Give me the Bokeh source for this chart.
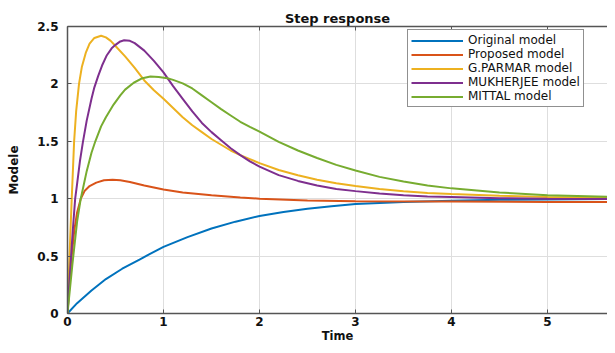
from bokeh.plotting import figure
from bokeh.models import (ColumnDataSource, Legend, LegendItem, LinearAxis, FixedTicker, Range1d)
from bokeh.embed import file_html
from bokeh.resources import INLINE

# ---- data ----
t_orig = [0, 0.1, 0.25, 0.4, 0.57, 0.75, 0.85, 1.0, 1.25, 1.5, 1.75, 2.0, 2.25, 2.5, 2.75, 3.0, 3.5, 4.0,
          4.5, 5.0, 5.7]
y_orig = [0, 0.09, 0.2, 0.3, 0.39, 0.47, 0.515, 0.58, 0.665, 0.74, 0.80, 0.85, 0.885, 0.913, 0.935, 0.953,
          0.972, 0.983, 0.99, 0.993, 0.997]

t_prop = [0, 0.02, 0.044, 0.07, 0.1, 0.138, 0.18, 0.23, 0.3, 0.38, 0.47, 0.55, 0.65, 0.8, 1.0, 1.2, 1.5,
          1.8, 2.0, 2.5, 3.0, 4.0, 5.0, 5.7]
y_prop = [0, 0.24, 0.5, 0.72, 0.88, 1.0, 1.07, 1.11, 1.14, 1.16, 1.166, 1.16, 1.145, 1.115, 1.08, 1.055, 1.03,
          1.01, 1.0, 0.985, 0.978, 0.975, 0.972, 0.972]

t_parm = [0, 0.01, 0.02, 0.03, 0.044, 0.055, 0.069, 0.09, 0.12, 0.15, 0.19, 0.23, 0.28, 0.35, 0.4, 0.45, 0.5,
          0.6, 0.7, 0.8, 0.9, 1.0, 1.1, 1.2, 1.3, 1.4, 1.5, 1.6, 1.7, 1.8, 1.9, 2.0, 2.2, 2.4, 2.6, 2.8, 3.0,
          3.25, 3.5, 3.75, 4.0, 4.5, 5.0, 5.7]
y_parm = [0, 0.24, 0.47, 0.7, 1.0, 1.22, 1.5, 1.76, 2.0, 2.15, 2.27, 2.35, 2.4, 2.42, 2.405, 2.375, 2.33,
          2.24, 2.14, 2.03, 1.945, 1.87, 1.79, 1.71, 1.64, 1.58, 1.52, 1.47, 1.42, 1.38, 1.345, 1.31, 1.25, 1.205,
          1.165, 1.135, 1.11, 1.085, 1.065, 1.05, 1.04, 1.025, 1.015, 1.005]

t_mukh = [0, 0.02, 0.04, 0.06, 0.08, 0.1, 0.13, 0.16, 0.2, 0.25, 0.28, 0.32, 0.36, 0.41, 0.46, 0.5, 0.55,
          0.59, 0.65, 0.7, 0.8, 0.9, 1.0, 1.1, 1.2, 1.3, 1.4, 1.5, 1.6, 1.7, 1.8, 1.9, 2.0, 2.2, 2.4, 2.6, 2.8,
          3.0, 3.25, 3.5, 3.75, 4.0, 4.5, 5.0, 5.7]
y_mukh = [0, 0.28, 0.54, 0.78, 1.0, 1.13, 1.33, 1.49, 1.68, 1.87, 1.97, 2.07, 2.16, 2.25, 2.31, 2.34, 2.37,
          2.38, 2.375, 2.355, 2.29, 2.2, 2.1, 1.98, 1.87, 1.76, 1.66, 1.58, 1.51, 1.44, 1.38, 1.325, 1.28, 1.205,
          1.155, 1.115, 1.085, 1.066, 1.045, 1.03, 1.02, 1.015, 1.005, 1.0, 0.998]

t_mitt = [0, 0.05, 0.1, 0.138, 0.2, 0.25, 0.29, 0.35, 0.4, 0.48, 0.55, 0.6, 0.69, 0.78, 0.864, 0.95, 1.04,
          1.1, 1.2, 1.3, 1.4, 1.5, 1.6, 1.7, 1.8, 1.9, 2.0, 2.2, 2.4, 2.6, 2.8, 3.0, 3.25, 3.5, 3.75, 4.0,
          4.5, 5.0, 5.7]
y_mitt = [0, 0.42, 0.8, 1.0, 1.24, 1.4, 1.5, 1.63, 1.71, 1.82, 1.9, 1.95, 2.01, 2.05, 2.065, 2.06, 2.05,
          2.035, 2.005, 1.96, 1.9, 1.84, 1.78, 1.725, 1.67, 1.625, 1.585, 1.495, 1.42, 1.355, 1.295, 1.245,
          1.19, 1.15, 1.115, 1.09, 1.055, 1.03, 1.015]

series_names = ["Original model", "Proposed model", "G.PARMAR model", "MUKHERJEE model", "MITTAL model"]
series_t = [t_orig, t_prop, t_parm, t_mukh, t_mitt]
series_y = [y_orig, y_prop, y_parm, y_mukh, y_mitt]
series_colors = ["#0072BD", "#D95319", "#EDB120", "#7E2F8E", "#77AC30"]

x_ticks = [0, 1, 2, 3, 4, 5]
y_ticks = [0, 0.5, 1, 1.5, 2, 2.5]
y_tick_labels = ["0", "0.5", "1", "1.5", "2", "2.5"]

FONT = "DejaVu Sans"
AXC = "#555555"

p = figure(width=607, height=345, output_backend="svg", toolbar_location=None,
           x_range=Range1d(0, 5.625), y_range=Range1d(0, 2.5),
           min_border_left=67, min_border_right=0, min_border_top=26, min_border_bottom=27,
           x_axis_label="Time", y_axis_label="Modele")
p.outline_line_color = None
p.background_fill_color = "white"
p.border_fill_color = "white"

p.title.text = "Step response"
p.title.align = "center"
p.title.text_font = FONT
p.title.text_font_size = "13px"
p.title.text_font_style = "bold"
p.title.text_color = "#111111"
p.title.standoff = 1
p.title.offset = 0

items = []
for name, t, y, c in zip(series_names, series_t, series_y, series_colors):
    src = ColumnDataSource(dict(t=t, y=y))
    r = p.line("t", "y", source=src, line_color=c, line_width=2)
    items.append(LegendItem(label=name, renderers=[r]))

for ax in [p.xaxis[0], p.yaxis[0]]:
    ax.axis_line_color = AXC
    ax.axis_line_width = 1.5
    ax.major_tick_line_color = AXC
    ax.major_tick_in = 4
    ax.major_tick_out = 0
    ax.minor_tick_line_color = None
    ax.major_label_text_font = FONT
    ax.major_label_text_font_style = "bold"
    ax.major_label_text_font_size = "12px"
    ax.major_label_text_color = "#111111"
    ax.axis_label_text_font = FONT
    ax.axis_label_text_font_style = "bold"
    ax.axis_label_text_font_size = "12px"
    ax.axis_label_text_color = "#111111"

p.xaxis[0].ticker = FixedTicker(ticks=x_ticks)
p.xaxis[0].axis_label_text_font_size = "11.5px"
p.yaxis[0].ticker = FixedTicker(ticks=y_ticks)
p.yaxis[0].major_label_overrides = {v: s for v, s in zip(y_ticks, y_tick_labels)}
p.xaxis[0].major_label_standoff = 3
p.xaxis[0].axis_label_standoff = 0
p.yaxis[0].major_label_standoff = 9
p.yaxis[0].axis_label_standoff = 13

top = LinearAxis(ticker=FixedTicker(ticks=[], minor_ticks=x_ticks),
                 axis_line_color=AXC, axis_line_width=1.5,
                 major_tick_line_color=None, minor_tick_line_color=AXC,
                 minor_tick_in=4, minor_tick_out=0)
p.add_layout(top, "above")

p.xgrid.ticker = FixedTicker(ticks=x_ticks)
p.ygrid.ticker = FixedTicker(ticks=y_ticks)
p.grid.grid_line_color = "#dedede"
p.grid.grid_line_width = 1

legend = Legend(items=items, location=(340, 206))
legend.label_text_font = FONT
legend.label_text_font_size = "12px"
legend.label_text_color = "#111111"
legend.glyph_width = 52
legend.glyph_height = 13
legend.label_height = 13
legend.label_standoff = 5
legend.spacing = 0
legend.padding = 3
legend.margin = 0
legend.border_line_color = "#222222"
legend.border_line_width = 1
legend.background_fill_alpha = 1
p.add_layout(legend, "center")

open("out.html", "w").write(file_html(p, INLINE))
